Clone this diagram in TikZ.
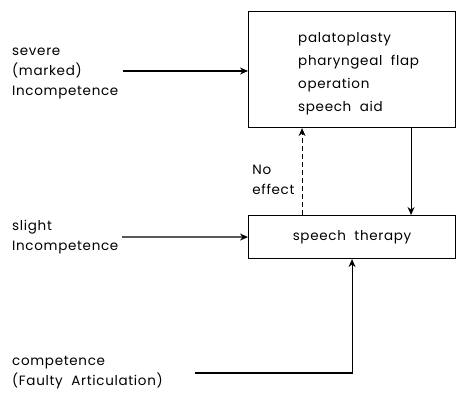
\documentclass[tikz,border=0pt]{standalone}
\usepackage{fontspec}
\setmainfont{Poppins}[LetterSpace=5,WordSpace=2]
\usetikzlibrary{arrows.meta}

\begin{document}
\begin{tikzpicture}[x=1pt,y=-1pt,
		every node/.style={font=\fontsize{13.5}{20}\selectfont, inner sep=0pt},
		box/.style={draw, line width=1.1pt},
		link/.style={line width=1.1pt, -{Stealth[length=8pt,width=7pt]}}]
		\useasboundingbox (0,0) rectangle (456,393);
		% boxes
		\node[box, anchor=north west, minimum width=207pt, minimum height=116pt] (surgery) at (248,11) {};
		\node[anchor=west, align=left, font=\fontsize{13.5}{23}\selectfont] (treatments) at (298,74) {palatoplasty\\pharyngeal flap\\operation\\speech aid};
		\node[box, anchor=north west, minimum width=207pt, minimum height=43pt] (therapy) at (248,215) {speech therapy};
		% conditions
		\node[anchor=west, align=left] (severe) at (12,73) {severe\\(marked)\\Incompetence};
		\node[anchor=west, align=left] (slight) at (12,237) {slight\\Incompetence};
		\node[anchor=west, align=left] (competence) at (12,373) {competence\\(Faulty Articulation)};
		\coordinate (severestart) at (123,71);
		\coordinate (slightstart) at (122,237);
		\coordinate (compstart) at (195,373);
		% arrows
		\draw[link] (severestart) -- (severestart -| surgery.west);
		\draw[link] (slightstart) -- (therapy.west);
		\draw[link] (compstart) -| (therapy.south);
		\draw[link] ([xshift=59pt]surgery.south) -- ([xshift=59pt]therapy.north);
		\draw[link, dash pattern=on 5pt off 3pt] ([xshift=-50pt]therapy.north) -- node[pos=0.4, left=7pt, align=left] (noeffect) {No\\effect} ([xshift=-50pt]surgery.south);
\end{tikzpicture}
\end{document}
